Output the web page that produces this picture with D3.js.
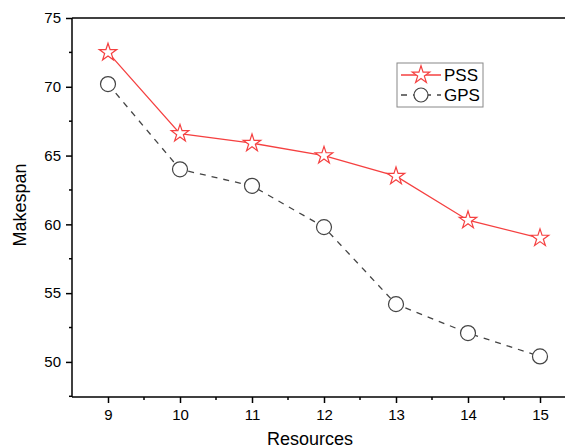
<!DOCTYPE html>
<html>
<head>
<meta charset="utf-8">
<script src="https://cdn.jsdelivr.net/npm/d3@7"></script>
<style>
    body { margin: 0; background: #fff; }
    svg { display: block; font-family: Arial, "Liberation Sans", sans-serif; }
</style>
</head>
<body>
<script>
// chart data
var resources = [9, 10, 11, 12, 13, 14, 15];
var pssValues = [72.5, 66.6, 65.9, 65.0, 63.5, 60.3, 59.0];
var gpsValues = [70.2, 64.0, 62.8, 59.8, 54.2, 52.1, 50.4];
var yTicks = [50, 55, 60, 65, 70, 75];
var seriesNames = ["PSS", "GPS"];

var W = 565, H = 445;
var margin = {top: 18, left: 72};
var plotBottom = 397;

var svg = d3.select("body").append("svg")
    .attr("width", W)
    .attr("height", H);

// x goes from 8.5 to 15.5, right end falls outside the picture
var x = d3.scaleLinear().domain([8.5, 15.5]).range([margin.left, 576]);
var y = d3.scaleLinear().domain([47.45, 75]).range([plotBottom, margin.top]);

// frame: top line and the two axes
svg.append("line")
    .attr("x1", x(8.5)).attr("x2", W)
    .attr("y1", y(75)).attr("y2", y(75))
    .attr("stroke", "#000").attr("stroke-width", 1.5);

var xAxis = d3.axisBottom(x).tickValues(resources)
    .tickSize(6).tickPadding(6).tickFormat(d3.format("d"));
var gx = svg.append("g")
    .attr("transform", "translate(0," + plotBottom + ")")
    .call(xAxis);
gx.select(".domain").attr("d", "M" + x(8.5) + ",0H" + W)
    .attr("stroke-width", 1.5);
gx.selectAll(".tick line").attr("stroke-width", 1.5);
gx.selectAll("text").attr("font-size", 15).attr("fill", "#000")
    .attr("font-family", "Arial, 'Liberation Sans', sans-serif");
// minor x ticks
gx.selectAll(".minor").data(d3.range(9.5, 15.5, 1)).enter()
    .append("line")
    .attr("x1", function(d) { return x(d); })
    .attr("x2", function(d) { return x(d); })
    .attr("y1", 0).attr("y2", 3)
    .attr("stroke", "#000").attr("stroke-width", 1.5);

var yAxis = d3.axisLeft(y).tickValues(yTicks)
    .tickSize(6).tickPadding(5);
var gy = svg.append("g")
    .attr("transform", "translate(" + margin.left + ",0)")
    .call(yAxis);
gy.select(".domain").attr("d", "M0," + y(75) + "V" + plotBottom)
    .attr("stroke-width", 1.5);
gy.selectAll(".tick line").attr("stroke-width", 1.5);
gy.selectAll("text").attr("font-size", 15).attr("fill", "#000")
    .attr("font-family", "Arial, 'Liberation Sans', sans-serif");
gy.selectAll(".minor").data(d3.range(47.5, 75, 5)).enter()
    .append("line")
    .attr("y1", function(d) { return y(d); })
    .attr("y2", function(d) { return y(d); })
    .attr("x1", 0).attr("x2", -3)
    .attr("stroke", "#000").attr("stroke-width", 1.5);

// axis titles (the x title sits right on the bottom edge, as in the original)
svg.append("text")
    .attr("x", 310).attr("y", 445)
    .attr("text-anchor", "middle")
    .attr("font-size", 18)
    .text("Resources");
svg.append("text")
    .attr("transform", "translate(26,205) rotate(-90)")
    .attr("text-anchor", "middle")
    .attr("font-size", 18)
    .text("Makespan");

var star = d3.symbol().type(d3.symbolStar).size(95);

function drawSeries(vals, color, dash, marker) {
    var line = d3.line()
        .x(function(d, i) { return x(resources[i]); })
        .y(function(d) { return y(d); });
    svg.append("path")
        .datum(vals)
        .attr("d", line)
        .attr("fill", "none")
        .attr("stroke", color)
        .attr("stroke-width", 1.3)
        .attr("stroke-dasharray", dash);
    var pts = svg.append("g").selectAll("g").data(vals).enter()
        .append("g")
        .attr("transform", function(d, i) {
            return "translate(" + x(resources[i]) + "," + y(d) + ")";
        });
    if (marker == "star") {
        pts.append("path").attr("d", star)
            .attr("fill", "#fff").attr("stroke", color).attr("stroke-width", 1.2);
    } else {
        pts.append("circle").attr("r", 7.5)
            .attr("fill", "#fff").attr("stroke", color).attr("stroke-width", 1.2);
    }
}

drawSeries(pssValues, "#f54040", null, "star");
drawSeries(gpsValues, "#444", "6,6", "circle");

// legend
var leg = svg.append("g").attr("transform", "translate(397,63)");
leg.append("rect")
    .attr("width", 86).attr("height", 44)
    .attr("fill", "#fff").attr("stroke", "#888").attr("stroke-width", 1);
var legColors = ["#f54040", "#444"];
seriesNames.forEach(function(name, i) {
    var row = leg.append("g").attr("transform", "translate(0," + (12 + i * 20) + ")");
    row.append("line")
        .attr("x1", 4).attr("x2", 44)
        .attr("stroke", legColors[i]).attr("stroke-width", 1.3)
        .attr("stroke-dasharray", i == 1 ? "6,6" : null);
    if (i == 0) {
        row.append("path").attr("d", star)
            .attr("transform", "translate(24,0)")
            .attr("fill", "#fff").attr("stroke", legColors[i]).attr("stroke-width", 1.2);
    } else {
        row.append("circle").attr("cx", 24).attr("r", 7)
            .attr("fill", "#fff").attr("stroke", legColors[i]).attr("stroke-width", 1.2);
    }
    row.append("text")
        .attr("x", 47).attr("y", 6)
        .attr("font-size", 17)
        .text(name);
});
</script>
</body>
</html>
